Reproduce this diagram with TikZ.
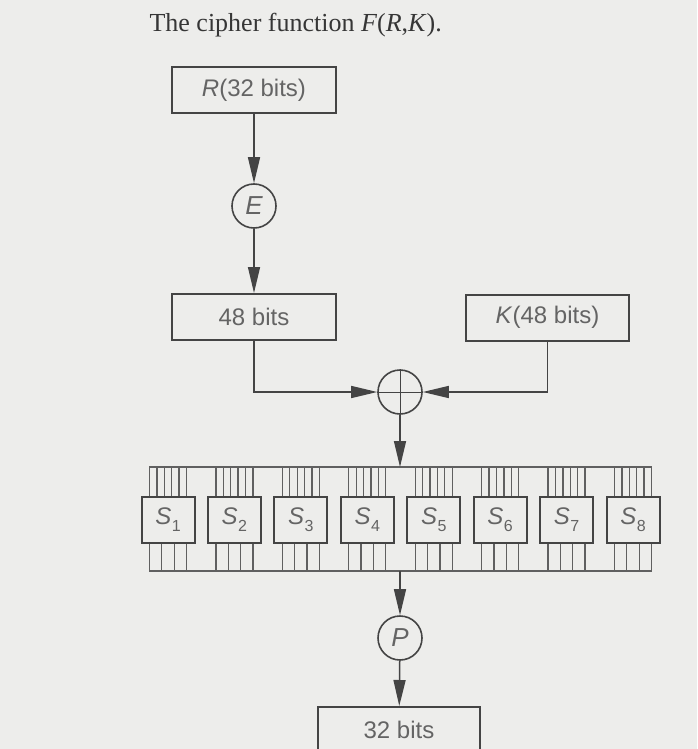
\documentclass[tikz,border=0pt]{standalone}
\usepackage{fontspec}
\setmainfont{Liberation Serif}
\setsansfont{Liberation Sans}
\usetikzlibrary{arrows.meta,calc}
\definecolor{bg}{RGB}{237,237,235}
\definecolor{ink}{RGB}{68,68,68}
\definecolor{txt}{RGB}{100,100,100}
\begin{document}
\begin{tikzpicture}[x=1pt,y=-1pt,
  box/.style={draw=ink, line width=2pt, minimum width=164pt, minimum height=46pt,
    inner sep=0pt, font=\sffamily\fontsize{24}{28}\selectfont, text=txt},
  sbox/.style={box, minimum width=53pt},
  op/.style={circle, draw=ink, line width=1.6pt, minimum size=44pt, inner sep=0pt,
    font=\sffamily\itshape\fontsize{26}{28}\selectfont, text=txt},
  conn/.style={draw=ink, line width=1.5pt},
  arr/.style={conn, -{Triangle[length=26pt,width=12pt]}},
  wire/.style={draw=ink!85, line width=1.3pt}]
\fill[bg] (0,0) rectangle (697,749);
\useasboundingbox (0,0) rectangle (697,749);

\node[anchor=base west, font=\rmfamily\fontsize{26}{30}\selectfont, text=ink!80!black]
  (title) at (146,32) {The cipher function \textit{F}(\textit{R},\textit{K}).};

\node[box] (R) at (254,90.5) {\textit{R}(32 bits)};
\node[op] (E) at (254,206) {E};
\node[box] (B48) at (254,317) {48 bits};
\node[box, minimum width=163pt] (K) at (547.5,317.5) {\textit{K}(48 bits)};
\node[op] (X) at (400,392) {};
\draw[ink, line width=1pt] (X.north) -- (X.south) (X.west) -- (X.east);

\foreach \i in {1,...,8} {
  \node[sbox] (S\i) at ({168+66.43*(\i-1)},520)
    {\textit{S}\kern0.5pt\raisebox{-0.55ex}{\fontsize{16}{17}\selectfont\i}};
  \foreach \d in {-18.5,-11.1,-3.7,3.7,11.1,18.5}
    \draw[wire] ([xshift=\d pt]S\i.north) -- ++(0,-30);
  \foreach \d in {-18.5,-6.17,6.17,18.5}
    \draw[wire] ([xshift=\d pt]S\i.south) -- ++(0,28);
}
\coordinate (btL) at (149.5,467);
\coordinate (btR) at (651.5,467);
\coordinate (bbL) at (149.5,571);
\coordinate (bbR) at (651.5,571);
\draw[wire] (btL) -- (btR);
\draw[wire] (bbL) -- (bbR);

\node[op] (P) at (400,638) {P};
\node[box, minimum width=162pt] (B32) at (399,730) {32 bits};

\draw[arr] (R) -- (E);
\draw[arr] (E) -- (B48);
\draw[arr] (B48.south) |- (X.west);
\draw[arr] (K.south) |- (X.east);
\draw[arr] (X) -- (X |- btL);
\draw[arr] (X |- bbL) -- (P);
\draw[arr] (P) -- (B32);
\end{tikzpicture}
\end{document}
